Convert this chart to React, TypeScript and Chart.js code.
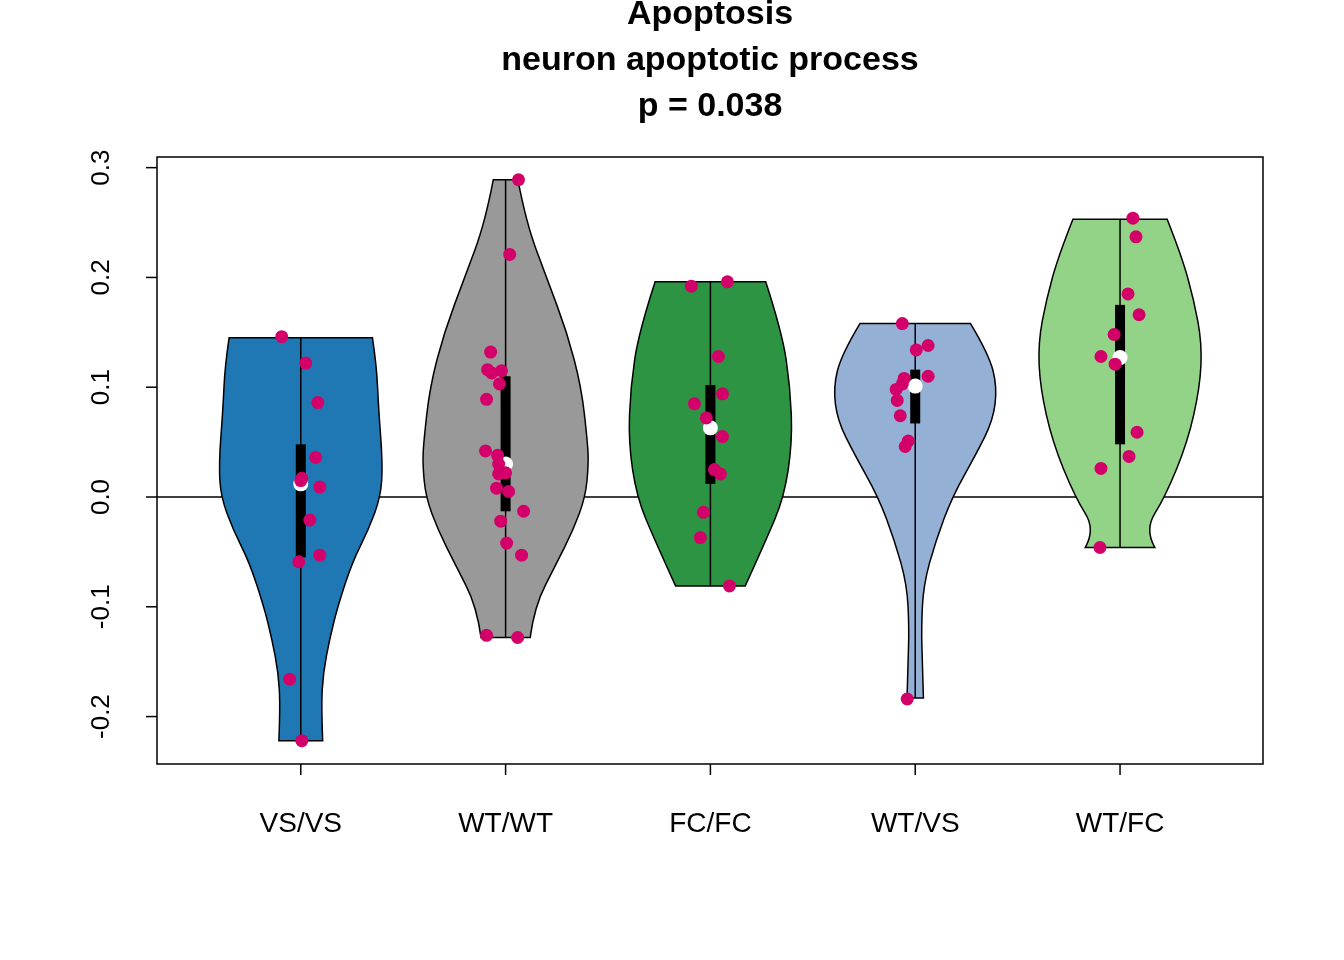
import { useEffect, useRef } from "react"
import { Chart, registerables } from "chart.js"

Chart.register(...registerables)

const groups = ["VS/VS", "WT/WT", "FC/FC", "WT/VS", "WT/FC"]
const fills = ["#1F78B4", "#999999", "#2C9443", "#95B0D5", "#93D388"]
const yTicks = [-0.2, -0.1, 0.0, 0.1, 0.2, 0.3]

// violin outline: [value, half width in category units], bottom to top
const violins: number[][][] = [
  [[-0.222, 0.107], [-0.19, 0.1], [-0.16, 0.11], [-0.13, 0.14], [-0.1, 0.18], [-0.06, 0.25], [-0.03, 0.33], [0.0, 0.39], [0.03, 0.4], [0.08, 0.38], [0.12, 0.37], [0.145, 0.35]],
  [[-0.128, 0.12], [-0.1, 0.14], [-0.06, 0.25], [-0.03, 0.33], [0.0, 0.39], [0.03, 0.405], [0.05, 0.4], [0.1, 0.37], [0.15, 0.3], [0.2, 0.2], [0.25, 0.1], [0.289, 0.06]],
  [[-0.081, 0.17], [-0.04, 0.27], [0.0, 0.36], [0.05, 0.4], [0.1, 0.39], [0.15, 0.35], [0.196, 0.27]],
  [[-0.183, 0.04], [-0.15, 0.035], [-0.12, 0.03], [-0.08, 0.04], [-0.04, 0.1], [0.0, 0.18], [0.04, 0.3], [0.07, 0.38], [0.1, 0.4], [0.13, 0.36], [0.158, 0.27]],
  [[-0.046, 0.17], [-0.03, 0.12], [0.0, 0.22], [0.05, 0.33], [0.1, 0.39], [0.14, 0.4], [0.18, 0.36], [0.22, 0.3], [0.253, 0.23]],
]
const q1 = [-0.055, -0.013, 0.012, 0.067, 0.048]
const q3 = [0.048, 0.11, 0.102, 0.116, 0.175]
const medians = [0.012, 0.03, 0.063, 0.101, 0.127]

// points: [jitter, value]
const points: number[][][] = [
  [[-0.093, 0.146], [0.024, 0.122], [0.083, 0.086], [0.073, 0.036], [0.093, 0.009], [0.005, 0.017], [0, 0.015], [0.044, -0.021], [0.093, -0.053], [-0.01, -0.059], [-0.054, -0.166], [0.005, -0.222]],
  [[0.063, 0.289], [0.02, 0.221], [-0.073, 0.132], [-0.088, 0.116], [-0.068, 0.113], [-0.02, 0.115], [-0.03, 0.103], [-0.093, 0.089], [-0.098, 0.042], [-0.039, 0.038], [-0.034, 0.03], [-0.024, 0.023], [0, 0.022], [-0.034, 0.021], [-0.044, 0.008], [0.015, 0.005], [0.088, -0.013], [-0.024, -0.022], [0.005, -0.042], [0.078, -0.053], [-0.093, -0.126], [0.059, -0.128]],
  [[-0.093, 0.192], [0.083, 0.196], [0.039, 0.128], [-0.078, 0.085], [0.059, 0.094], [-0.02, 0.072], [0.059, 0.055], [0.02, 0.025], [0.049, 0.021], [-0.034, -0.014], [-0.049, -0.037], [0.093, -0.081]],
  [[-0.063, 0.158], [0.005, 0.134], [0.063, 0.138], [-0.054, 0.108], [0.063, 0.11], [-0.093, 0.098], [-0.063, 0.103], [-0.088, 0.088], [-0.073, 0.074], [-0.034, 0.051], [-0.049, 0.046], [-0.039, -0.184]],
  [[0.063, 0.254], [0.078, 0.237], [0.039, 0.185], [0.093, 0.166], [-0.029, 0.148], [-0.093, 0.128], [-0.024, 0.121], [0.083, 0.059], [0.044, 0.037], [-0.093, 0.026], [-0.098, -0.046]],
]

const FONT = "Liberation Sans, Arial, sans-serif"

const violinPlugin = {
  id: "violins",
  beforeDatasetsDraw(chart: any) {
    const { ctx, chartArea: a } = chart
    const x = chart.scales.x
    const y = chart.scales.y
    ctx.save()
    // zero line
    ctx.strokeStyle = "#000"
    ctx.lineWidth = 1.5
    ctx.beginPath()
    ctx.moveTo(a.left, y.getPixelForValue(0))
    ctx.lineTo(a.right, y.getPixelForValue(0))
    ctx.stroke()
    violins.forEach((prof, i) => {
      const c = i + 1
      const right = prof.map(([v, w]) => [x.getPixelForValue(c + w), y.getPixelForValue(v)])
      const left = prof.slice().reverse().map(([v, w]) => [x.getPixelForValue(c - w), y.getPixelForValue(v)])
      const pts = right.concat(left)
      ctx.beginPath()
      ctx.moveTo(pts[0][0], pts[0][1])
      const smooth = (arr: number[][]) => {
        for (let k = 1; k < arr.length - 1; k++) {
          const mx = (arr[k][0] + arr[k + 1][0]) / 2
          const my = (arr[k][1] + arr[k + 1][1]) / 2
          ctx.quadraticCurveTo(arr[k][0], arr[k][1], k === arr.length - 2 ? arr[k + 1][0] : mx, k === arr.length - 2 ? arr[k + 1][1] : my)
        }
      }
      smooth(right)
      ctx.lineTo(left[0][0], left[0][1])
      smooth(left)
      ctx.closePath()
      ctx.fillStyle = fills[i]
      ctx.fill()
      ctx.lineWidth = 1.5
      ctx.stroke()
      const cx = x.getPixelForValue(c)
      ctx.beginPath()
      ctx.moveTo(cx, y.getPixelForValue(prof[0][0]))
      ctx.lineTo(cx, y.getPixelForValue(prof[prof.length - 1][0]))
      ctx.stroke()
      ctx.fillStyle = "#000"
      ctx.fillRect(cx - 5, y.getPixelForValue(q3[i]), 10, y.getPixelForValue(q1[i]) - y.getPixelForValue(q3[i]))
      ctx.fillStyle = "#fff"
      ctx.beginPath()
      ctx.arc(cx, y.getPixelForValue(medians[i]), 7.5, 0, Math.PI * 2)
      ctx.fill()
    })
    ctx.restore()
  },
  afterDraw(chart: any) {
    const { ctx, chartArea: a } = chart
    const x = chart.scales.x
    const y = chart.scales.y
    ctx.save()
    ctx.strokeStyle = "#000"
    ctx.fillStyle = "#000"
    ctx.lineWidth = 1.5
    ctx.strokeRect(a.left, a.top, a.right - a.left, a.bottom - a.top)
    ctx.font = `26px ${FONT}`
    ctx.textAlign = "center"
    ctx.textBaseline = "middle"
    yTicks.forEach((t) => {
      const py = y.getPixelForValue(t)
      ctx.beginPath()
      ctx.moveTo(a.left, py)
      ctx.lineTo(a.left - 11, py)
      ctx.stroke()
      ctx.save()
      ctx.translate(102, py)
      ctx.rotate(-Math.PI / 2)
      ctx.fillText(t.toFixed(1), 0, 0)
      ctx.restore()
    })
    ctx.font = `28px ${FONT}`
    groups.forEach((g, i) => {
      const px = x.getPixelForValue(i + 1)
      ctx.beginPath()
      ctx.moveTo(px, a.bottom)
      ctx.lineTo(px, a.bottom + 11)
      ctx.stroke()
      ctx.fillText(g, px, 824)
    })
    ctx.font = `bold 34px ${FONT}`
    const tx = (a.left + a.right) / 2
    ctx.fillText("Apoptosis", tx, 15)
    ctx.fillText("neuron apoptotic process", tx, 61)
    ctx.fillText("p = 0.038", tx, 107)
    ctx.restore()
  },
}

export default function App() {
  const ref = useRef<HTMLCanvasElement>(null)
  useEffect(() => {
    document.body.style.margin = "0"
    if (!ref.current) return
    const chart = new Chart(ref.current, {
      type: "scatter",
      data: {
        datasets: points.map((g, i) => ({
          data: g.map(([j, v]) => ({ x: i + 1 + j, y: v })),
          backgroundColor: "#D4006A",
          borderWidth: 0,
          pointRadius: 6.5,
        })),
      },
      options: {
        animation: false,
        responsive: false,
        layout: { padding: { left: 157, right: 81, top: 157, bottom: 196 } },
        plugins: { legend: { display: false }, tooltip: { enabled: false } },
        scales: {
          x: { type: "linear", min: 0.298, max: 5.698, display: false },
          y: { min: -0.2432, max: 0.3097, display: false },
        },
      },
      plugins: [violinPlugin],
    })
    return () => chart.destroy()
  }, [])
  return <canvas ref={ref} width={1344} height={960} style={{ display: "block" }} />
}
